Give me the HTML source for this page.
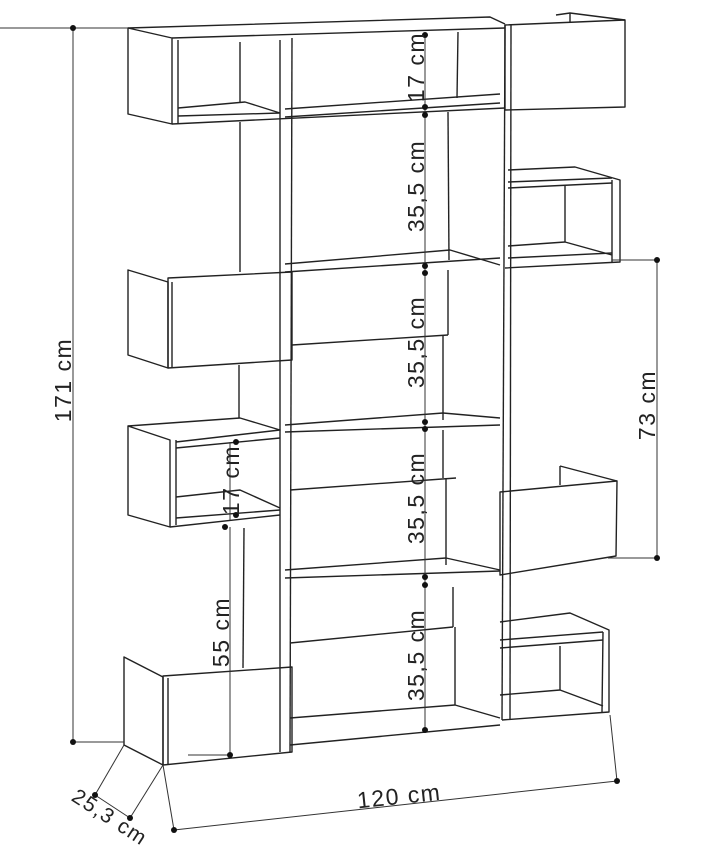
<!DOCTYPE html>
<html><head><meta charset="utf-8"><style>
html,body{margin:0;padding:0;background:#fff;width:724px;height:860px;overflow:hidden}
svg{display:block}
text{font-family:"Liberation Sans",sans-serif;fill:#222}
</style></head><body>
<svg width="724" height="860" viewBox="0 0 724 860">
<g stroke="#222" stroke-width="1.4" fill="none" stroke-linejoin="round">
<line x1="240" y1="122" x2="240" y2="272"/>
<line x1="239" y1="365" x2="239" y2="418"/>
<line x1="244" y1="528" x2="243" y2="668"/>
<line x1="457" y1="98" x2="458" y2="32"/>
<line x1="449" y1="260" x2="448" y2="112"/>
<line x1="448" y1="335" x2="448" y2="270"/>
<line x1="443" y1="420" x2="443" y2="335"/>
<line x1="443" y1="478" x2="443" y2="430"/>
<line x1="446" y1="565" x2="446" y2="478"/>
<line x1="455" y1="705" x2="455" y2="627"/>
<line x1="453" y1="627" x2="453" y2="587"/>
<polyline points="280,40 280,752"/>
<polyline points="292,38 290,752"/>
<polyline points="505,25 502,720"/>
<polyline points="511,25 510,720"/>
<polyline points="285,109 500,94"/>
<polyline points="285,117 500,103"/>
<polyline points="285,264 450,250 500,265"/>
<polyline points="285,272 500,258"/>
<polyline points="292,345 448,335"/>
<polyline points="285,425 443,413 500,418"/>
<polyline points="285,432 500,425"/>
<polyline points="290,490 456,478"/>
<polyline points="285,570 446,558 500,570"/>
<polyline points="285,578 500,571"/>
<polyline points="290,643 453,627"/>
<polyline points="290,718 455,705 500,718"/>
<polyline points="290,745 500,725"/>
<polygon points="128,28 172,38 172,124 128,114"/>
<polyline points="128,28 490,17 505,24"/>
<polyline points="172,38 505,28"/>
<polyline points="172,124 505,108"/>
<line x1="178" y1="40" x2="178" y2="124"/>
<polyline points="178,108 245,102 280,113"/>
<polyline points="178,116 280,113"/>
<line x1="240" y1="42" x2="240" y2="102"/>
<polygon points="505,25 625,20 625,107 505,110"/>
<polyline points="556,15 570,13 625,20"/>
<line x1="570" y1="13" x2="570" y2="22"/>
<polyline points="508,170 575,167 620,180 620,262 505,268"/>
<line x1="612" y1="180" x2="612" y2="262"/>
<polyline points="508,182 612,178"/>
<polyline points="508,188 612,183"/>
<line x1="565" y1="186" x2="565" y2="242"/>
<polyline points="508,246 565,242 612,255"/>
<polyline points="508,258 612,253"/>
<polygon points="500,492 617,481 616,556 500,575"/>
<polyline points="560,466 560,485"/>
<polyline points="560,466 617,481"/>
<polyline points="500,622 570,613 609,630 609,712 502,720"/>
<line x1="603" y1="632" x2="602" y2="712"/>
<polyline points="500,640 603,632"/>
<polyline points="500,648 603,640"/>
<line x1="560" y1="646" x2="560" y2="690"/>
<polyline points="500,695 560,690 603,706"/>
<polygon points="128,270 168,282 168,368 128,355"/>
<line x1="172" y1="282" x2="172" y2="368"/>
<polygon points="168,278 292,272 292,360 168,368"/>
<polygon points="128,426 170,440 170,527 128,515"/>
<line x1="176" y1="440" x2="176" y2="525"/>
<polyline points="128,426 240,418 280,430 176,442"/>
<polyline points="176,448 280,438"/>
<polyline points="176,497 240,490 280,508"/>
<polyline points="170,527 280,515"/>
<polyline points="176,518 280,510"/>
<polygon points="124,657 163,677 163,765 124,745"/>
<line x1="168" y1="678" x2="168" y2="764"/>
<polygon points="163,676 292,667 292,752 163,765"/>
</g>
<g stroke="#333" stroke-width="1">
<line x1="73" y1="28" x2="73" y2="742"/>
<line x1="0" y1="28" x2="128" y2="28"/>
<line x1="73" y1="742" x2="124" y2="742"/>
<line x1="425" y1="35" x2="425" y2="732"/>
<line x1="657" y1="260" x2="657" y2="558"/>
<line x1="612" y1="260" x2="657" y2="260"/>
<line x1="608" y1="558" x2="657" y2="558"/>
<line x1="230" y1="442" x2="230" y2="520"/>
<line x1="230" y1="527" x2="230" y2="755"/>
<line x1="188" y1="755" x2="230" y2="755"/>
<line x1="174" y1="830" x2="617" y2="781"/>
<line x1="163" y1="765" x2="174" y2="830"/>
<line x1="610" y1="715" x2="617" y2="781"/>
<line x1="95" y1="795" x2="130" y2="818"/>
<line x1="124" y1="745" x2="95" y2="795"/>
<line x1="163" y1="765" x2="130" y2="818"/>
</g>
<g fill="#111">
<circle cx="73" cy="28" r="3"/><circle cx="73" cy="742" r="3"/>
<circle cx="425" cy="35" r="3"/><circle cx="425" cy="107" r="3"/><circle cx="425" cy="115" r="3"/>
<circle cx="425" cy="266" r="3"/><circle cx="425" cy="273" r="3"/><circle cx="425" cy="422" r="3"/>
<circle cx="425" cy="429" r="3"/><circle cx="425" cy="577" r="3"/><circle cx="425" cy="585" r="3"/>
<circle cx="425" cy="730" r="3"/>
<circle cx="657" cy="260" r="3"/><circle cx="657" cy="558" r="3"/>
<circle cx="236" cy="442" r="3"/><circle cx="236" cy="515" r="3"/><circle cx="225" cy="527" r="3"/>
<circle cx="230" cy="755" r="3"/>
<circle cx="174" cy="830" r="3"/><circle cx="617" cy="781" r="3"/>
<circle cx="95" cy="795" r="3"/><circle cx="130" cy="818" r="3"/>
</g>
<g font-size="23" letter-spacing="1.5">
<text transform="translate(71,380) rotate(-90)" text-anchor="middle">171 cm</text>
<text transform="translate(424,67) rotate(-90)" text-anchor="middle">17 cm</text>
<text transform="translate(424,186) rotate(-90)" text-anchor="middle">35,5 cm</text>
<text transform="translate(424,342) rotate(-90)" text-anchor="middle">35,5 cm</text>
<text transform="translate(424,498) rotate(-90)" text-anchor="middle">35,5 cm</text>
<text transform="translate(424,655) rotate(-90)" text-anchor="middle">35,5 cm</text>
<text transform="translate(655,405) rotate(-90)" text-anchor="middle">73 cm</text>
<text transform="translate(239,480) rotate(-90)" text-anchor="middle">17 cm</text>
<text transform="translate(229,632) rotate(-90)" text-anchor="middle">55 cm</text>
<text transform="translate(400,804) rotate(-6)" text-anchor="middle">120 cm</text>
<text transform="translate(106,823) rotate(33)" text-anchor="middle" font-size="21">25,3 cm</text>
</g>
</svg>
</body></html>
